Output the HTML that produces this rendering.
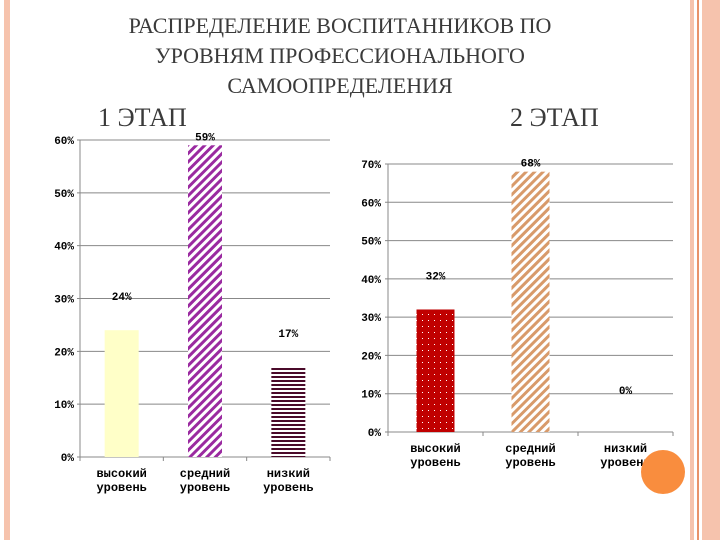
<!DOCTYPE html>
<html><head><meta charset="utf-8"><style>
body{margin:0;width:720px;height:540px;background:#fff;overflow:hidden;font-family:"Liberation Serif","Noto Serif CJK SC",serif}
.m{font-family:"Liberation Mono",monospace;font-weight:bold}
</style></head><body>
<svg width="720" height="540" xmlns="http://www.w3.org/2000/svg">
<defs>
<pattern id="diagP" width="6" height="6" patternUnits="userSpaceOnUse" patternTransform="rotate(45)"><rect width="6" height="6" fill="#fff"/><rect width="3" height="6" fill="#9a2aa0"/></pattern>
<pattern id="horizD" width="4" height="4" patternUnits="userSpaceOnUse"><rect width="4" height="4" fill="#fff"/><rect width="4" height="2" fill="#4a0a2a"/></pattern>
<pattern id="dotR" width="6" height="6" patternUnits="userSpaceOnUse"><rect width="6" height="6" fill="#c00000"/><rect x="2" y="2" width="1" height="1" fill="#fff"/></pattern>
<pattern id="diagO" width="6" height="6" patternUnits="userSpaceOnUse" patternTransform="rotate(45)"><rect width="6" height="6" fill="#fff"/><rect width="3" height="6" fill="#d89a6a"/></pattern>
</defs>
<rect x="4" y="0" width="6" height="540" fill="#f6c3ad"/>
<rect x="690" y="0" width="4" height="540" fill="#f6c3ad"/>
<rect x="697" y="0" width="2" height="540" fill="#e8926a"/>
<rect x="702" y="0" width="18" height="540" fill="#f6c3ad"/>
<g fill="#3a3a3a" font-size="22" text-anchor="middle">
<text x="340" y="33">РАСПРЕДЕЛЕНИЕ  ВОСПИТАННИКОВ ПО</text>
<text x="340" y="63">УРОВНЯМ ПРОФЕССИОНАЛЬНОГО</text>
<text x="340" y="93">САМООПРЕДЕЛЕНИЯ</text>
</g>
<text x="98" y="126" font-size="26" fill="#3a3a3a">1 ЭТАП</text>
<text x="510" y="126" font-size="26" fill="#3a3a3a">2 ЭТАП</text>
<g id="c1"></g>
<g id="c2"></g>
<circle cx="663" cy="472" r="22" fill="#f98d3e"/>
</svg>
<script>
const categories = ["высокий|уровень","средний|уровень","низкий|уровень"];
const stage1Values = [24, 59, 17];
const stage2Values = [32, 68, 0];
const stage1Ticks = [0,10,20,30,40,50,60];
const stage2Ticks = [0,10,20,30,40,50,60,70];
const NS="http://www.w3.org/2000/svg";
function mk(p,t,a){const e=document.createElementNS(NS,t);for(const k in a)e.setAttribute(k,a[k]);p.appendChild(e);return e;}
function draw(g,vals,ticks,x0,x1,y0,y1,fills,barW,tickX){
  const max=ticks[ticks.length-1];
  const ys=v=>y0-(v/max)*(y0-y1);
  const bw=(x1-x0)/vals.length;
  ticks.forEach(t=>{
    const l=mk(g,'line',{x1:x0-3,x2:x1,y1:ys(t),y2:ys(t),stroke:'#888','stroke-width':1});
    
    
    const tx=mk(g,'text',{x:tickX,y:ys(t)+4,'font-size':11,'text-anchor':'end',fill:'#000',class:'m'});
    tx.textContent=t+'%';
    
    
  });
  const ax=mk(g,'line',{x1:x0,x2:x0,y1:y1,y2:y0,stroke:'#888'});
  
  
  for(let i=0;i<=vals.length;i++){const tk=mk(g,'line',{x1:x0+i*bw,x2:x0+i*bw,y1:y0,y2:y0+4,stroke:'#888'});
    
    }
  vals.forEach((v,i)=>{
    const cx=x0+bw*(i+0.5);
    if(v>0){const r=mk(g,'rect',{x:cx-barW/2,y:ys(v),width:barW,height:y0-ys(v),fill:fills[i]});
      
      }
    const lb=mk(g,'text',{x:cx,y:ys(v)-(v>0? (i==1?5:30):38),'font-size':11,'text-anchor':'middle',class:'m'});
    lb.textContent=v+'%';
    
    
    categories[i].split('|').forEach((s,j)=>{const c=mk(g,'text',{x:cx,y:y0+20+j*14,'font-size':12,'text-anchor':'middle',class:'m'});c.textContent=s;
      
      });
  });
}
draw(document.getElementById('c1'),stage1Values,stage1Ticks,80,330,457,140,['#ffffc8','url(#diagP)','url(#horizD)'],34,74);
draw(document.getElementById('c2'),stage2Values,stage2Ticks,388,673,432,164,['url(#dotR)','url(#diagO)','#888'],38,381);
</script>
</body></html>
